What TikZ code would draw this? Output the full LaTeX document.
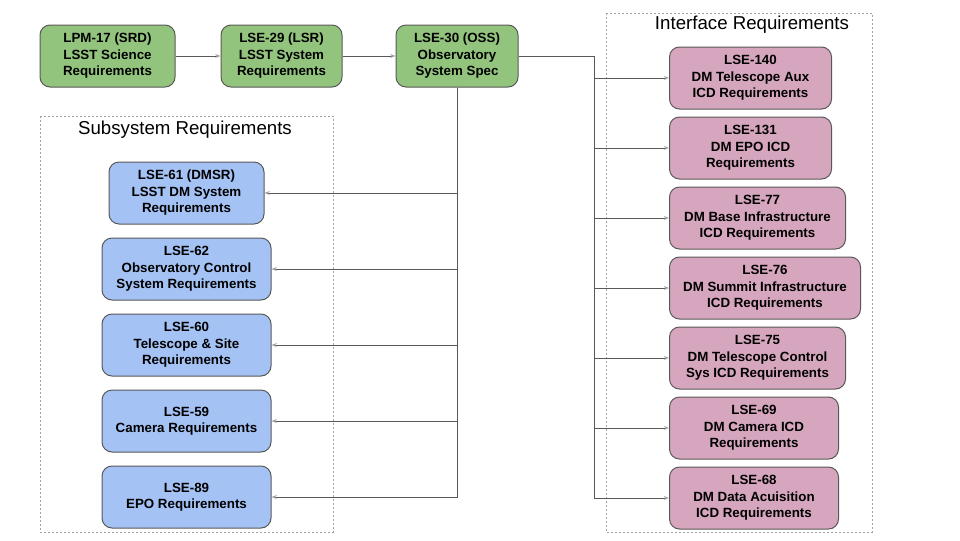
\documentclass[tikz,border=0pt]{standalone}
\usepackage{fontspec}
\setmainfont{Liberation Sans}
\usetikzlibrary{arrows.meta}

\definecolor{boxline}{HTML}{595959}
\definecolor{greenfill}{HTML}{93C47D}
\definecolor{bluefill}{HTML}{A4C2F4}
\definecolor{pinkfill}{HTML}{D5A6BD}
\definecolor{frameline}{HTML}{A0A0A0}

\begin{document}
\begin{tikzpicture}[x=0.75pt, y=-0.75pt,
	box/.style = {draw=boxline, line width=0.75pt, rounded corners=7.5pt, minimum height=46.5pt, align=center, inner sep=2pt, font=\fontsize{10}{12.4}\selectfont\bfseries},
	green/.style = {box, fill=greenfill},
	blue/.style = {box, fill=bluefill},
	pink/.style = {box, fill=pinkfill, anchor=west},
	frame/.style = {draw=frameline, line width=0.6pt, dash pattern=on 1.5pt off 1.5pt},
	title/.style = {font=\fontsize{14}{16}\selectfont},
	link/.style = {draw=boxline, line width=0.75pt, -{Stealth[length=4pt, width=3pt, color=frameline]}}]
		\useasboundingbox (0,0) rectangle (960,540);
		% group frames
		\draw[frame] (40,116) rectangle (333,532);
		\draw[frame] (606,13) rectangle (872,532);
		\node[title] (subt) at (185,130) {Subsystem Requirements};
		\node[title] (intt) at (752,25) {Interface Requirements};
		% top row
		\node[green, minimum width=101.25pt] (srd) at (107.5,56) {LPM-17 (SRD)\\LSST Science\\Requirements};
		\node[green, minimum width=90.75pt] (lsr) at (281.5,56) {LSE-29 (LSR)\\LSST System\\Requirements};
		\node[green, minimum width=91.5pt] (oss) at (457,56) {LSE-30 (OSS)\\Observatory\\System Spec};
		% subsystems
		\node[blue, minimum width=116.25pt] (s61) at (186.5,193) {LSE-61 (DMSR)\\LSST DM System\\Requirements};
		\node[blue, minimum width=126.75pt] (s62) at (186.5,269) {LSE-62\\Observatory Control\\System Requirements};
		\node[blue, minimum width=126.75pt] (s60) at (186.5,345) {LSE-60\\Telescope \& Site\\Requirements};
		\node[blue, minimum width=126.75pt] (s59) at (186.5,421) {LSE-59\\Camera Requirements};
		\node[blue, minimum width=126.75pt] (s89) at (186.5,497) {LSE-89\\EPO Requirements};
		% interfaces
		\node[pink, minimum width=121.5pt] (i140) at (669,78) {LSE-140\\DM Telescope Aux\\ICD Requirements};
		\node[pink, minimum width=121.5pt] (i131) at (669,148) {LSE-131\\DM EPO ICD\\Requirements};
		\node[pink, minimum width=132pt] (i77) at (669,218) {LSE-77\\DM Base Infrastructure\\ICD Requirements};
		\node[pink, minimum width=143.25pt] (i76) at (669,288) {LSE-76\\DM Summit Infrastructure\\ICD Requirements};
		\node[pink, minimum width=132pt] (i75) at (669,358) {LSE-75\\DM Telescope Control\\Sys ICD Requirements};
		\node[pink, minimum width=126.75pt] (i69) at (669,428) {LSE-69\\DM Camera ICD\\Requirements};
		\node[pink, minimum width=126.75pt] (i68) at (669,498) {LSE-68\\DM Data Acuisition\\ICD Requirements};
		\coordinate (rj) at (594,56);
		% connectors
		\draw[link] (srd) -- (lsr);
		\draw[link] (lsr) -- (oss);
		\draw[draw=boxline, line width=0.75pt] (oss.east) -- (rj);
		\foreach \n in {i140,i131,i77,i76,i75,i69,i68}
			\draw[link] (rj) |- (\n.west);
		\foreach \n in {s61,s62,s60,s59,s89}
			\draw[link] (oss.south) |- (\n.east);
	\end{tikzpicture}
\end{document}
